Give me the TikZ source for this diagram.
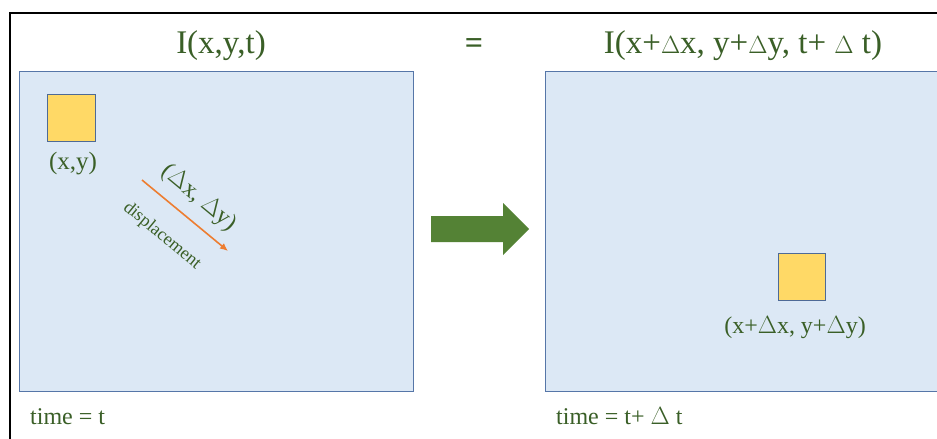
\documentclass[tikz,border=0pt]{standalone}
\usepackage{fontspec}
\setmainfont{Liberation Serif}
\usetikzlibrary{arrows.meta}
\definecolor{txtgreen}{HTML}{3A5F27}
\definecolor{arrgreen}{HTML}{548235}
\definecolor{panelfill}{HTML}{DCE8F5}
\definecolor{paneldraw}{HTML}{5676A8}
\definecolor{sqfill}{HTML}{FFD966}
\definecolor{sqdraw}{HTML}{4E6A96}
\definecolor{orangearr}{HTML}{ED7D31}
\tikzset{
  panel/.style={fill=panelfill, draw=paneldraw, line width=1pt},
  sq/.style={fill=sqfill, draw=sqdraw, line width=1pt},
  gtxt/.style={text=txtgreen, inner sep=0pt},
}
\begin{document}
\begin{tikzpicture}[x=1pt,y=-1pt]
\useasboundingbox (0,0) rectangle (937,439);
\clip (0,0) rectangle (937,439);
\fill[white] (0,0) rectangle (937,439);
% outer frame
\draw[black, line width=2pt] (10,439) -- (10,13) -- (940,13);
% panels
\path[panel] (19,71) rectangle (413,391);
\path[panel] (545,71) rectangle (945,391);
% squares
\path[sq] (47,94) rectangle (95,141);
\path[sq] (778,253) rectangle (825,300);
% titles
\node[gtxt, font=\fontsize{33}{38}\selectfont] (t1) at (221,46) {I(x,y,t)};
\node[gtxt, font=\fontsize{33}{38}\selectfont] (t2) at (743,46) {I(x+$\Delta$x, y+$\Delta$y, t+ $\Delta$ t)};
\node[gtxt, font=\fontsize{32}{36}\selectfont\bfseries] (eq) at (474,46) {=};
% labels
\node[gtxt, font=\fontsize{25}{29}\selectfont] (l1) at (73,164) {(x,y)};
\node[gtxt, font=\fontsize{24}{28}\selectfont] (l2) at (795,328) {(x+$\Delta$x, y+$\Delta$y)};
\node[gtxt, font=\fontsize{24}{28}\selectfont, anchor=base west] (tm1) at (30,424) {time = t};
\node[gtxt, font=\fontsize{24}{28}\selectfont, anchor=base west] (tm2) at (556,424) {time = t+ $\Delta$ t};
% displacement arrow
\coordinate (da) at (142,180);
\coordinate (db) at (228,251);
\draw[orangearr, line width=1.6pt, -{Latex[length=8pt,width=7pt]}] (da) -- (db);
\node[gtxt, font=\fontsize{24}{28}\selectfont, rotate=-39.6] (dl) at (199,198) {($\Delta$x, $\Delta$y)};
\node[gtxt, font=\fontsize{18}{21}\selectfont, rotate=-39.6] (dp) at (162,236) {displacement};
% big arrow
\fill[arrgreen] (431,216) -- (503,216) -- (503,203) -- (529,229) -- (503,255) -- (503,242) -- (431,242) -- cycle;
\end{tikzpicture}
\end{document}
